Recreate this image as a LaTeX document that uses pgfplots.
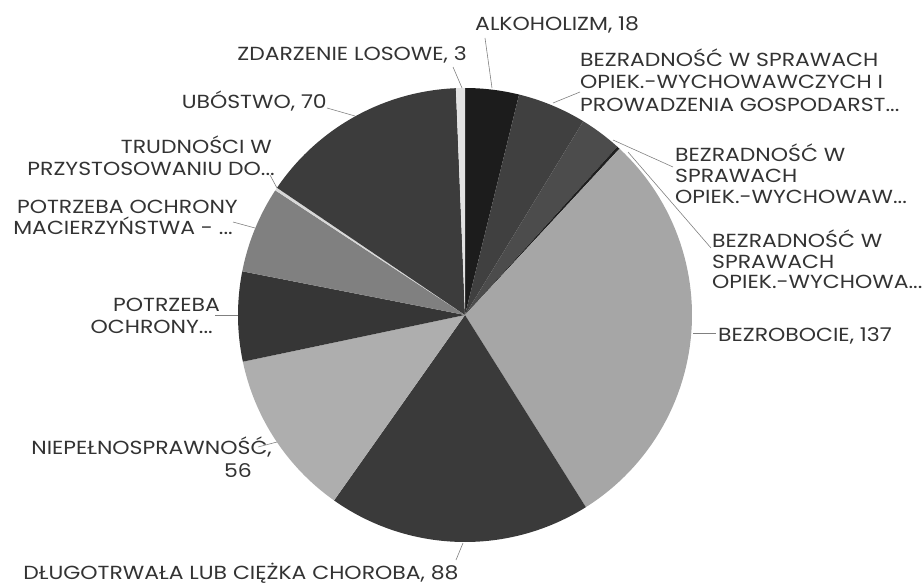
\documentclass[border=0pt]{standalone}
\usepackage{pgfplots}
\pgfplotsset{compat=1.18}
\usepackage{pgfplotstable}
\usepackage{fontspec}
\setmainfont{Poppins}[FakeStretch=1.16]

\definecolor{s0}{HTML}{1C1C1C}
\definecolor{s1}{HTML}{404040}
\definecolor{s2}{HTML}{4C4C4C}
\definecolor{s3}{HTML}{202020}
\definecolor{s4}{HTML}{A6A6A6}
\definecolor{s5}{HTML}{3A3A3A}
\definecolor{s6}{HTML}{AEAEAE}
\definecolor{s7}{HTML}{363636}
\definecolor{s8}{HTML}{808080}
\definecolor{s9}{HTML}{D8D8D8}
\definecolor{s10}{HTML}{3C3C3C}
\definecolor{s11}{HTML}{E2E2E2}
\definecolor{txt}{HTML}{333333}
\definecolor{lead}{HTML}{808080}

% slices clockwise from 12 o'clock
\pgfplotstableread{
value color
18  s0
23  s1
14  s2
1   s3
137 s4
88  s5
56  s6
30  s7
29  s8
1   s9
70  s10
3   s11
}\piedata

\tikzset{lbl/.style={inner sep=0pt, text=txt, font=\fontsize{19}{22}\selectfont}}

\begin{document}
\begin{tikzpicture}
\pgfplotstablegetrowsof{\piedata}
\pgfmathtruncatemacro\N{\pgfplotsretval-1}
\def\total{0}
\pgfplotsforeachungrouped \i in {0,...,\N}{%
  \pgfplotstablegetelem{\i}{value}\of\piedata
  \pgfmathsetmacro\total{\total+\pgfplotsretval}%
}
\begin{axis}[
  width=923bp, height=586bp, scale only axis,
  xmin=0, xmax=923, ymin=0, ymax=586, y dir=reverse,
  axis lines=none, clip=false]
\def\cum{0}
\pgfplotsforeachungrouped \i in {0,...,\N}{%
  \pgfplotstablegetelem{\i}{value}\of\piedata
  \let\sliceval\pgfplotsretval
  \pgfplotstablegetelem{\i}{color}\of\piedata
  \let\slicecol\pgfplotsretval
  \pgfmathsetmacro\angA{\cum/\total*360}%
  \pgfmathsetmacro\cum{\cum+\sliceval}%
  \pgfmathsetmacro\angB{\cum/\total*360}%
  \edef\temp{\noexpand\addplot[fill=\slicecol, draw=none, domain=\angA:\angB, samples=60] ({465+227*sin(x)},{315-227*cos(x)}) -- (axis cs:465,315) -- cycle;}%
  \temp
}
\coordinate (bbA) at (axis cs:0,586);
\coordinate (bbB) at (axis cs:923,0);

% leader lines
\begin{scope}[draw=lead, line width=0.6pt]
\draw (axis cs:485,38) -- (axis cs:492,88);
\draw (axis cs:453,67) -- (axis cs:462,88);
\draw (axis cs:327,108) -- (axis cs:355,116);
\draw (axis cs:580,92) -- (axis cs:553,103);
\draw (axis cs:673,167) -- (axis cs:613,140);
\draw (axis cs:711,248) -- (axis cs:628,152);
\draw (axis cs:693,333) -- (axis cs:716,333);
\draw (axis cs:463,543) -- (axis cs:456,560);
\draw (axis cs:258,447) -- (axis cs:277,442);
\draw (axis cs:215,315) -- (axis cs:238,315);
\draw (axis cs:233,222) -- (axis cs:255,228);
\draw (axis cs:270,175) -- (axis cs:277,188);
\end{scope}

% labels
\node[lbl, anchor=base west] at (axis cs:475,31) {ALKOHOLIZM, 18};
\node[lbl, anchor=base east] at (axis cs:467,61) {ZDARZENIE LOSOWE, 3};
\node[lbl, anchor=base east] at (axis cs:327,108) {UBÓSTWO, 70};
\node[lbl, anchor=base west] at (axis cs:580,67) {BEZRADNOŚĆ W SPRAWACH};
\node[lbl, anchor=base west] at (axis cs:580,89) {OPIEK.-WYCHOWAWCZYCH I};
\node[lbl, anchor=base west] at (axis cs:580,111) {PROWADZENIA GOSPODARST...};
\node[lbl, anchor=base west] at (axis cs:675,161) {BEZRADNOŚĆ W};
\node[lbl, anchor=base west] at (axis cs:675,182) {SPRAWACH};
\node[lbl, anchor=base west] at (axis cs:675,203) {OPIEK.-WYCHOWAW...};
\node[lbl, anchor=base west] at (axis cs:712,247) {BEZRADNOŚĆ W};
\node[lbl, anchor=base west] at (axis cs:712,268) {SPRAWACH};
\node[lbl, anchor=base west] at (axis cs:712,288) {OPIEK.-WYCHOWA...};
\node[lbl, anchor=base west] at (axis cs:718,341) {BEZROBOCIE, 137};
\node[lbl, anchor=base] at (axis cs:241,579) {DŁUGOTRWAŁA LUB CIĘŻKA CHOROBA, 88};
\node[lbl, anchor=base east] at (axis cs:272,454) {NIEPEŁNOSPRAWNOŚĆ,};
\node[lbl, anchor=base east] at (axis cs:252,477) {56};
\node[lbl, anchor=base east] at (axis cs:220,311) {POTRZEBA};
\node[lbl, anchor=base east] at (axis cs:213,333) {OCHRONY...};
\node[lbl, anchor=base east] at (axis cs:238,213) {POTRZEBA OCHRONY};
\node[lbl, anchor=base east] at (axis cs:233,234) {MACIERZYŃSTWA - ...};
\node[lbl, anchor=base east] at (axis cs:272,153) {TRUDNOŚCI W};
\node[lbl, anchor=base east] at (axis cs:275,175) {PRZYSTOSOWANIU DO...};
\end{axis}
\pgfresetboundingbox
\path[use as bounding box] (bbA) rectangle (bbB);
\end{tikzpicture}
\end{document}
